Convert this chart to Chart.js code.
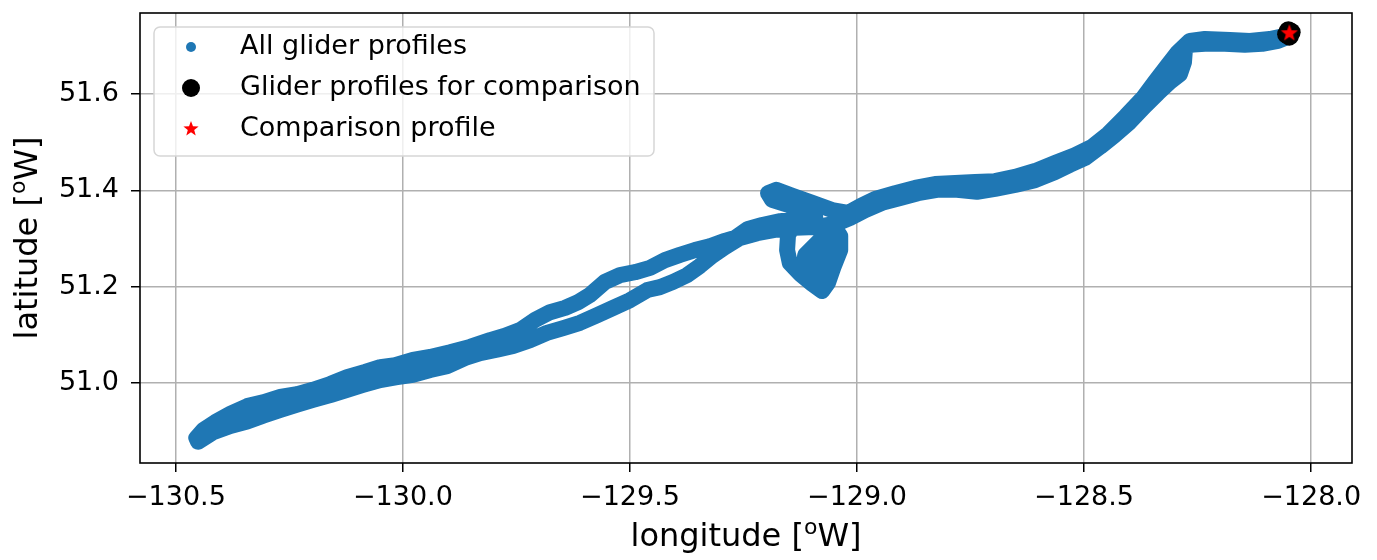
<!DOCTYPE html>
<html lang="en">
<head>
<meta charset="UTF-8">
<title>Glider profiles</title>
<script src="https://cdn.jsdelivr.net/npm/chart.js"></script>
<style>
    body { margin: 0; background: #fff; }
    canvas { display: block; }
</style>
</head>
<body>
<canvas id="map" width="1377" height="560"></canvas>
<script>
// glider track (outbound leg NE -> SW, then the way back)
const outboundLon = [-128.049, -128.091, -128.135, -128.179, -128.234, -128.267, -128.293, -128.317, -128.344, -128.370,
    -128.408, -128.447, -128.483, -128.520, -128.564, -128.608, -128.652, -128.696, -128.740, -128.784,
    -128.828, -128.872, -128.916, -128.960, -128.993, -129.020,
    -129.055, -129.099, -129.141, -129.178, -129.196, -129.187, -129.152, -129.114, -129.092,
    -129.136, -129.152, -129.154, -129.148, -129.125, -129.099, -129.077, -129.064, -129.051, -129.037, -129.037, -129.055,
    -129.081, -129.114, -129.119, -129.092, -129.070, -129.095, -129.064, -129.077, -129.103, -129.130,
    -129.169, -129.209, -129.240, -129.269, -129.291, -129.324, -129.357, -129.390, -129.423, -129.456,
    -129.489, -129.522, -129.555, -129.588, -129.614, -129.643, -129.676, -129.709, -129.742, -129.775,
    -129.808, -129.852, -129.896, -129.940, -129.978, -130.017, -130.050, -130.083, -130.123, -130.160,
    -130.198, -130.233, -130.270, -130.308, -130.343, -130.380, -130.413, -130.440, -130.455];
const outboundLat = [51.722, 51.714, 51.710, 51.712, 51.714, 51.710, 51.687, 51.658, 51.625, 51.592,
    51.554, 51.517, 51.490, 51.473, 51.457, 51.440, 51.428, 51.419, 51.417, 51.415,
    51.413, 51.405, 51.394, 51.382, 51.367, 51.353,
    51.359, 51.374, 51.388, 51.401, 51.394, 51.380, 51.370, 51.355, 51.345,
    51.334, 51.307, 51.276, 51.249, 51.226, 51.206, 51.191, 51.208, 51.243, 51.276, 51.305, 51.330,
    51.297, 51.266, 51.235, 51.214, 51.235, 51.251, 51.276, 51.314, 51.334, 51.340,
    51.336, 51.328, 51.320, 51.301, 51.295, 51.284, 51.276, 51.266, 51.255, 51.239,
    51.230, 51.224, 51.210, 51.183, 51.168, 51.156, 51.147, 51.131, 51.110, 51.098,
    51.089, 51.075, 51.064, 51.054, 51.048, 51.037, 51.033, 51.023, 51.012, 50.998,
    50.986, 50.977, 50.971, 50.960, 50.952, 50.936, 50.919, 50.902, 50.886];
const returnLon = [-130.451, -130.418, -130.380, -130.343, -130.308, -130.270, -130.233, -130.198, -130.160, -130.123,
    -130.088, -130.050, -130.013, -129.978, -129.940, -129.903, -129.863, -129.830, -129.793, -129.757,
    -129.720, -129.683, -129.647, -129.610, -129.572, -129.537, -129.500, -129.462, -129.434, -129.405,
    -129.374, -129.346, -129.319, -129.291, -129.258, -129.220, -129.181, -129.136, -129.092, -129.048,
    -129.015, -128.982, -128.945, -128.905, -128.866, -128.824, -128.780, -128.736, -128.696, -128.652,
    -128.608, -128.564, -128.531, -128.498, -128.465, -128.432, -128.399, -128.366, -128.337, -128.311,
    -128.289, -128.280, -128.278, -128.267, -128.234, -128.190, -128.146, -128.108, -128.073, -128.047];
const returnLat = [50.878, 50.898, 50.911, 50.920, 50.932, 50.944, 50.955, 50.965, 50.975, 50.986,
    50.996, 51.006, 51.012, 51.017, 51.027, 51.035, 51.052, 51.062, 51.069, 51.077,
    51.089, 51.104, 51.114, 51.125, 51.141, 51.156, 51.172, 51.193, 51.199, 51.210,
    51.224, 51.243, 51.264, 51.282, 51.301, 51.311, 51.318, 51.322, 51.324, 51.330,
    51.343, 51.359, 51.374, 51.384, 51.394, 51.401, 51.401, 51.397, 51.403, 51.411,
    51.421, 51.438, 51.453, 51.467, 51.490, 51.515, 51.542, 51.575, 51.602, 51.625,
    51.641, 51.666, 51.691, 51.702, 51.704, 51.704, 51.702, 51.704, 51.710, 51.720];

// profiles picked for the comparison, and the comparison profile itself
const nearLon = [-128.054, -128.044, -128.048, -128.050];
const nearLat = [51.724, 51.728, 51.720, 51.731];
const compLon = [-128.048];
const compLat = [51.726];

const xTicks = [-130.5, -130.0, -129.5, -129.0, -128.5, -128.0];
const yTicks = [51.0, 51.2, 51.4, 51.6];

const FONT = "'DejaVu Sans', sans-serif";
const BLUE = '#1f77b4';

function pts(lon, lat) {
    return lon.map((x, i) => ({ x: x, y: lat[i] }));
}

// filled red star for the comparison profile
function makeStar(r, color) {
    const c = document.createElement('canvas');
    c.width = c.height = Math.ceil(r * 2 + 2);
    const g = c.getContext('2d');
    const cx = c.width / 2, cy = c.height / 2;
    g.beginPath();
    for (let i = 0; i < 10; i++) {
        const rad = i % 2 === 0 ? r : r * 0.42;
        const a = -Math.PI / 2 + i * Math.PI / 5;
        g.lineTo(cx + rad * Math.cos(a), cy + rad * Math.sin(a));
    }
    g.closePath();
    g.fillStyle = color;
    g.fill();
    return c;
}
const starBig = makeStar(9, '#ff0000');
const starSmall = makeStar(8, '#ff0000');

function fmt(v) {
    return v.toFixed(1).replace('-', '\u2212');
}

// "name [^oW]" with a real superscript o, centred on (0, 0) along the baseline
function drawUnitLabel(ctx, name, size) {
    const big = size + 'px ' + FONT;
    const small = Math.round(size * 0.7) + 'px ' + FONT;
    const parts = [[name + ' [', big, 0], ['o', small, -size * 0.36], ['W]', big, 0]];
    let total = 0;
    parts.forEach(p => { ctx.font = p[1]; total += ctx.measureText(p[0]).width; });
    let x = -total / 2;
    ctx.textAlign = 'left';
    ctx.textBaseline = 'alphabetic';
    parts.forEach(p => {
        ctx.font = p[1];
        ctx.fillText(p[0], x, p[2]);
        x += ctx.measureText(p[0]).width;
    });
}

// keep the plot box where the reference has it
function noLabelPadding(s) {
    s.paddingTop = 0;
    s.paddingBottom = 0;
    s.paddingLeft = 0;
    s.paddingRight = 0;
}

// frame round the plot, axis titles and the legend box
const framePlugin = {
    id: 'frame',
    afterDatasetsDraw(chart) {
        const { ctx, chartArea: a } = chart;
        ctx.save();
        ctx.strokeStyle = '#000';
        ctx.lineWidth = 1.6;
        ctx.strokeRect(a.left, a.top, a.right - a.left, a.bottom - a.top);
        ctx.restore();
    },
    afterDraw(chart) {
        const ctx = chart.ctx;
        const a = chart.chartArea;
        ctx.save();
        ctx.fillStyle = '#000';
        ctx.translate((a.left + a.right) / 2, 546);
        drawUnitLabel(ctx, 'longitude', 32);
        ctx.restore();

        ctx.save();
        ctx.fillStyle = '#000';
        ctx.translate(37, (a.top + a.bottom) / 2);
        ctx.rotate(-Math.PI / 2);
        drawUnitLabel(ctx, 'latitude', 32);
        ctx.restore();

        const x = 154, y = 27, w = 500, h = 129, r = 6;
        ctx.save();
        ctx.beginPath();
        ctx.moveTo(x + r, y);
        ctx.arcTo(x + w, y, x + w, y + h, r);
        ctx.arcTo(x + w, y + h, x, y + h, r);
        ctx.arcTo(x, y + h, x, y, r);
        ctx.arcTo(x, y, x + w, y, r);
        ctx.closePath();
        ctx.fillStyle = 'rgba(255,255,255,0.8)';
        ctx.fill();
        ctx.strokeStyle = '#d6d6d6';
        ctx.lineWidth = 1.5;
        ctx.stroke();

        const rows = [
            { label: 'All glider profiles', y: 47 },
            { label: 'Glider profiles for comparison', y: 88 },
            { label: 'Comparison profile', y: 129 }
        ];
        ctx.fillStyle = BLUE;
        ctx.beginPath(); ctx.arc(191, rows[0].y, 5, 0, Math.PI * 2); ctx.fill();
        ctx.fillStyle = '#000';
        ctx.beginPath(); ctx.arc(191, rows[1].y, 9, 0, Math.PI * 2); ctx.fill();
        ctx.drawImage(starSmall, 191 - starSmall.width / 2, rows[2].y - starSmall.height / 2);

        ctx.font = '27px ' + FONT;
        ctx.fillStyle = '#000';
        ctx.textBaseline = 'middle';
        ctx.textAlign = 'left';
        rows.forEach(row => ctx.fillText(row.label, 240, row.y));
        ctx.restore();
    }
};

new Chart(document.getElementById('map'), {
    type: 'scatter',
    data: {
        datasets: [
            {
                label: 'Comparison profile',
                data: pts(compLon, compLat),
                pointStyle: starBig,
                pointRadius: 9,
                order: 0
            },
            {
                label: 'Glider profiles for comparison',
                data: pts(nearLon, nearLat),
                backgroundColor: '#000',
                borderWidth: 0,
                pointRadius: 9.5,
                order: 1
            },
            {
                label: 'All glider profiles',
                data: pts(outboundLon, outboundLat).concat(pts(returnLon, returnLat)),
                showLine: true,
                borderColor: BLUE,
                backgroundColor: BLUE,
                borderWidth: 16,
                borderCapStyle: 'round',
                borderJoinStyle: 'round',
                pointRadius: 0,
                tension: 0,
                order: 2
            }
        ]
    },
    options: {
        responsive: false,
        animation: false,
        layout: { padding: { top: 13, right: 25, left: 0, bottom: 0 } },
        plugins: {
            legend: { display: false },
            tooltip: { enabled: false }
        },
        scales: {
            x: {
                type: 'linear',
                bounds: 'data',
                min: -130.579,
                max: -127.910,
                afterBuildTicks: s => { s.ticks = xTicks.map(v => ({ value: v })); },
                afterFit: s => { s.height = 97; noLabelPadding(s); },
                border: { display: false },
                grid: { color: '#b0b0b0', lineWidth: 1.5, tickColor: '#000', tickWidth: 1.5, tickLength: 9 },
                ticks: { color: '#000', padding: 10, maxRotation: 0, font: { family: FONT, size: 27 }, callback: v => fmt(v) }
            },
            y: {
                type: 'linear',
                bounds: 'data',
                min: 50.834,
                max: 51.768,
                afterBuildTicks: s => { s.ticks = yTicks.map(v => ({ value: v })); },
                afterFit: s => { s.width = 140; noLabelPadding(s); },
                border: { display: false },
                grid: { color: '#b0b0b0', lineWidth: 1.5, tickColor: '#000', tickWidth: 1.5, tickLength: 9 },
                ticks: { color: '#000', padding: 12, font: { family: FONT, size: 27 }, callback: v => fmt(v) }
            }
        }
    },
    plugins: [framePlugin]
});
</script>
</body>
</html>
